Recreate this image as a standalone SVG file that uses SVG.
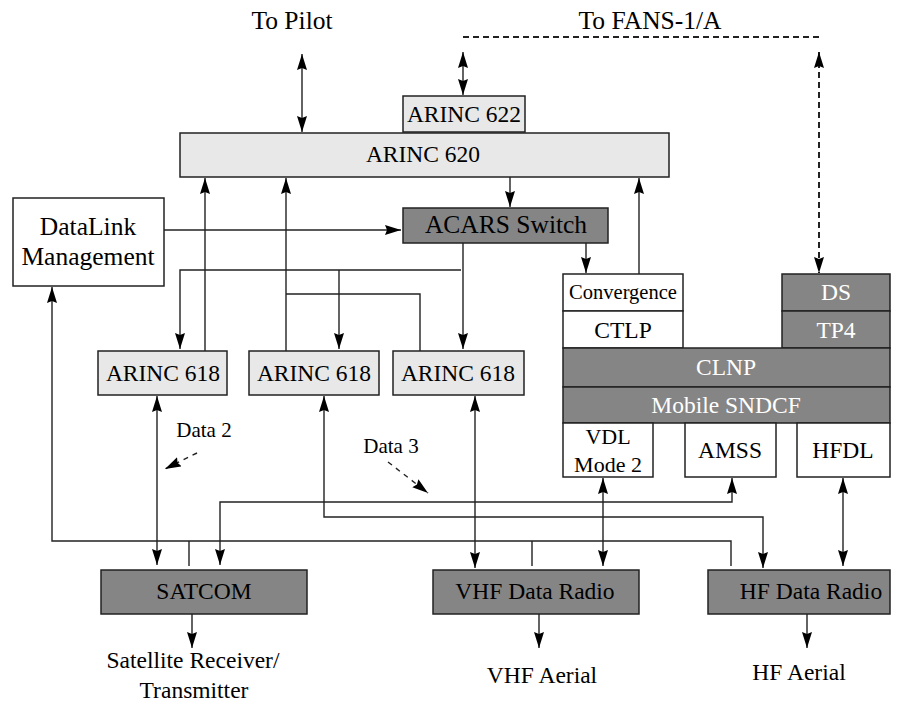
<svg xmlns="http://www.w3.org/2000/svg" width="906" height="703" viewBox="0 0 906 703">
<defs>
<marker id="ah" markerUnits="userSpaceOnUse" markerWidth="18" markerHeight="12" refX="16" refY="5" orient="auto-start-reverse">
<path d="M0,0 L16,5 L0,10 L2,5 z" fill="#000"/>
</marker>
</defs>
<style>
text{font-family:"Liberation Serif","Times New Roman",serif;font-size:23.5px;text-anchor:middle;fill:#000}
.w{fill:#fff}
.sm{font-size:21px}
.light{fill:#e8e8e8;stroke:#222;stroke-width:1.5}
.dark{fill:#858585;stroke:#222;stroke-width:1.5}
.white{fill:#fff;stroke:#222;stroke-width:1.5}
.c line,.c path{fill:none;stroke:#222;stroke-width:1.4}
.ae{marker-end:url(#ah)}
.ab{marker-start:url(#ah);marker-end:url(#ah)}
.c .d{stroke-dasharray:6,4;stroke-width:2}
.c .d2{stroke-dasharray:5,5}
</style>
<rect width="906" height="703" fill="#fff"/>
<g id="labels">
<text x="292" y="29" style="font-size:25.5px">To Pilot</text>
<text x="650" y="29" style="font-size:25.5px">To FANS-1/A</text>
<text x="204" y="437" class="sm">Data 2</text>
<text x="391" y="453" class="sm">Data 3</text>
<text x="193" y="668">Satellite Receiver/</text>
<text x="194" y="698">Transmitter</text>
<text x="542" y="683">VHF Aerial</text>
<text x="799" y="680">HF Aerial</text>
</g>
<g id="arinc622"><rect class="light" x="403" y="96" width="122" height="36"/><text x="464" y="122">ARINC 622</text></g>
<g id="arinc620"><rect class="light" x="180" y="133" width="489" height="44"/><text x="423" y="162">ARINC 620</text></g>
<g id="datalink"><rect class="white" x="13" y="198" width="151" height="88"/><text x="88" y="235" style="font-size:25.5px">DataLink</text><text x="88" y="265" style="font-size:25.5px">Management</text></g>
<g id="acars"><rect class="dark" x="403" y="208" width="205" height="35"/><text x="506" y="233" style="font-size:25.5px">ACARS Switch</text></g>
<g id="convergence"><rect class="white" x="563" y="274" width="120" height="37"/><text x="623" y="299" style="font-size:20.5px">Convergence</text></g>
<g id="ctlp"><rect class="white" x="563" y="311" width="120" height="37"/><text x="623" y="338">CTLP</text></g>
<g id="ds"><rect class="dark" x="782" y="274" width="108" height="37"/><text x="836" y="300" class="w">DS</text></g>
<g id="tp4"><rect class="dark" x="782" y="311" width="108" height="37"/><text x="836" y="338" class="w">TP4</text></g>
<g id="clnp"><rect class="dark" x="563" y="348" width="327" height="39"/><text x="726" y="375" class="w">CLNP</text></g>
<g id="sndcf"><rect class="dark" x="563" y="387" width="327" height="36"/><text x="726" y="413" class="w">Mobile SNDCF</text></g>
<g id="vdl"><rect class="white" x="563" y="423" width="90" height="54"/><text x="608" y="444" style="font-size:22px">VDL</text><text x="608" y="472" style="font-size:22px">Mode 2</text></g>
<g id="amss"><rect class="white" x="685" y="423" width="91" height="54"/><text x="730" y="458">AMSS</text></g>
<g id="hfdl"><rect class="white" x="797" y="423" width="93" height="54"/><text x="843" y="458">HFDL</text></g>
<g id="arinc618a"><rect class="light" x="98" y="351" width="129" height="44"/><text x="163" y="381">ARINC 618</text></g>
<g id="arinc618b"><rect class="light" x="249" y="351" width="130" height="44"/><text x="314" y="381">ARINC 618</text></g>
<g id="arinc618c"><rect class="light" x="393" y="351" width="131" height="44"/><text x="458" y="381">ARINC 618</text></g>
<g id="satcom"><rect class="dark" x="101" y="570" width="206" height="44"/><text x="204" y="599">SATCOM</text></g>
<g id="vhfradio"><rect class="dark" x="433" y="570" width="206" height="44"/><text x="535" y="599">VHF Data Radio</text></g>
<g id="hfradio"><rect class="dark" x="708" y="570" width="182" height="44"/><text x="811" y="599">HF Data Radio</text></g>
<g id="connectors" class="c">
<line class="ab" x1="302" y1="54" x2="302" y2="132"/>
<line class="ab" x1="463" y1="52" x2="463" y2="95"/>
<path class="d" d="M463,37 H819"/>
<line class="ab d" x1="819" y1="52" x2="819" y2="273"/>
<line class="ae" x1="205" y1="351" x2="205" y2="178"/>
<line class="ae" x1="286" y1="351" x2="286" y2="178"/>
<line class="ae" x1="510" y1="177" x2="510" y2="207"/>
<line class="ae" x1="639" y1="274" x2="639" y2="178"/>
<line class="ae" x1="164" y1="230" x2="401" y2="230"/>
<line class="ae" x1="586" y1="243" x2="586" y2="273"/>
<line class="ae" x1="463" y1="243" x2="463" y2="349"/>
<path class="ae" d="M461,270 H180 V349"/>
<line class="ae" x1="339" y1="270" x2="339" y2="349"/>
<path d="M286,294 H420 V351"/>
<line class="ab" x1="157" y1="396" x2="157" y2="565"/>
<path class="ab" d="M324,396 V517 H763 V568"/>
<path class="ab" d="M732,478 V502 H220 V565"/>
<line class="ab" x1="475" y1="396" x2="475" y2="568"/>
<line class="ab" x1="603" y1="478" x2="603" y2="566"/>
<line class="ab" x1="843" y1="478" x2="843" y2="566"/>
<path class="ae" d="M731,566 V541 H52 V287"/>
<path d="M189,541 V566"/>
<path d="M532,541 V566"/>
<line class="ae" x1="192" y1="614" x2="192" y2="648"/>
<line class="ae" x1="539" y1="614" x2="539" y2="648"/>
<line class="ae" x1="807" y1="614" x2="807" y2="648"/>
<line class="ae d2" x1="197" y1="453" x2="165" y2="469"/>
<line class="ae d2" x1="388" y1="462" x2="428" y2="493"/>
</g>
</svg>
